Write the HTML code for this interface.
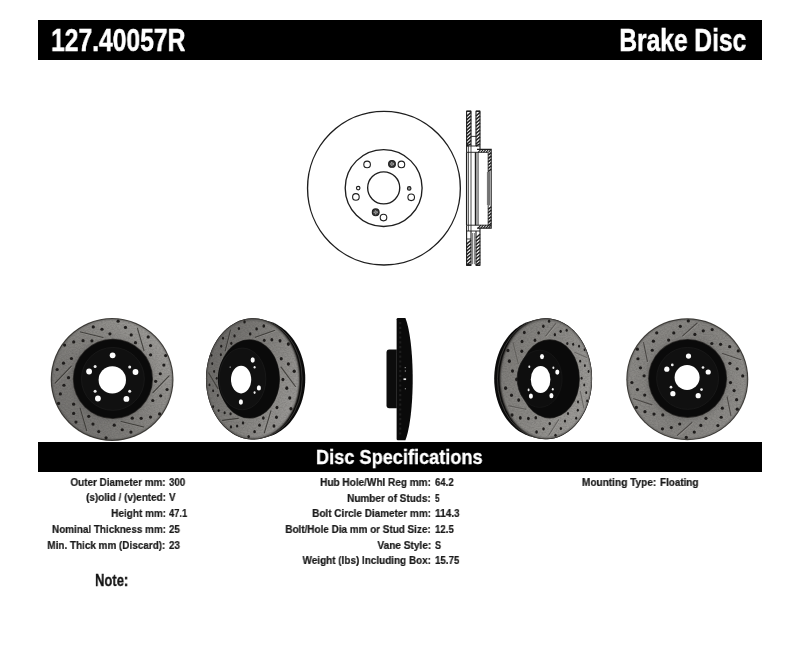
<!DOCTYPE html>
<html lang="en">
<head>
<meta charset="utf-8">
<title>127.40057R Brake Disc</title>
<style>
html,body{margin:0;padding:0;background:#fff;}
body{width:800px;height:655px;position:relative;overflow:hidden;font-family:"Liberation Sans",Arial,sans-serif;font-weight:bold;color:#111;}
.bar{position:absolute;left:38px;width:723.6px;background:#000;}
#bar1{top:20.25px;height:39.35px;}
#bar2{top:442.4px;height:30.1px;}
.t{position:absolute;white-space:nowrap;line-height:1;margin:0;will-change:transform;-webkit-font-smoothing:antialiased;}
#art{position:absolute;left:0;top:0;}
</style>
</head>
<body>
<div class="bar" id="bar1"></div>
<div class="bar" id="bar2"></div>
<div class="t" id="h1a" style="-webkit-text-stroke:0.55px #fff;left:50.95px;top:24.68px;font-size:31px;color:#fff;transform:scaleX(0.7957);transform-origin:0 0;">127.40057R</div>
<div class="t" id="h1b" style="-webkit-text-stroke:0.55px #fff;right:54.00px;top:24.68px;font-size:31px;color:#fff;transform:scaleX(0.7926);transform-origin:100% 0;">Brake Disc</div>
<div class="t" id="h2" style="-webkit-text-stroke:0.35px #fff;left:315.74px;top:447.28px;font-size:20.5px;color:#fff;transform:scaleX(0.8865);transform-origin:0 0;">Disc Specifications</div>
<div class="t" id="l0" style="-webkit-text-stroke:0.22px #1a1a1a;right:634.66px;top:476.98px;font-size:11.3px;color:#1a1a1a;transform:scaleX(0.8762);transform-origin:100% 0;">Outer Diameter mm:</div>
<div class="t" id="lv0" style="-webkit-text-stroke:0.22px #1a1a1a;left:168.78px;top:476.98px;font-size:11.3px;color:#1a1a1a;transform:scaleX(0.8620);transform-origin:0 0;">300</div>
<div class="t" id="l1" style="-webkit-text-stroke:0.22px #1a1a1a;right:633.97px;top:491.97px;font-size:11.3px;color:#1a1a1a;transform:scaleX(0.8780);transform-origin:100% 0;">(s)olid / (v)ented:</div>
<div class="t" id="lv1" style="-webkit-text-stroke:0.22px #1a1a1a;left:168.65px;top:491.97px;font-size:11.3px;color:#1a1a1a;transform:scaleX(0.8750);transform-origin:0 0;">V</div>
<div class="t" id="l2" style="-webkit-text-stroke:0.22px #1a1a1a;right:633.97px;top:507.97px;font-size:11.3px;color:#1a1a1a;transform:scaleX(0.8845);transform-origin:100% 0;">Height mm:</div>
<div class="t" id="lv2" style="-webkit-text-stroke:0.22px #1a1a1a;left:168.78px;top:507.97px;font-size:11.3px;color:#1a1a1a;transform:scaleX(0.8291);transform-origin:0 0;">47.1</div>
<div class="t" id="l3" style="-webkit-text-stroke:0.22px #1a1a1a;right:633.97px;top:524.07px;font-size:11.3px;color:#1a1a1a;transform:scaleX(0.8767);transform-origin:100% 0;">Nominal Thickness mm:</div>
<div class="t" id="lv3" style="-webkit-text-stroke:0.22px #1a1a1a;left:169.02px;top:524.07px;font-size:11.3px;color:#1a1a1a;transform:scaleX(0.8658);transform-origin:0 0;">25</div>
<div class="t" id="l4" style="-webkit-text-stroke:0.22px #1a1a1a;right:634.67px;top:539.71px;font-size:11.3px;color:#1a1a1a;transform:scaleX(0.8783);transform-origin:100% 0;">Min. Thick mm (Discard):</div>
<div class="t" id="lv4" style="-webkit-text-stroke:0.22px #1a1a1a;left:169.02px;top:539.71px;font-size:11.3px;color:#1a1a1a;transform:scaleX(0.8720);transform-origin:0 0;">23</div>
<div class="t" id="m0" style="-webkit-text-stroke:0.22px #1a1a1a;right:369.13px;top:476.96px;font-size:11.3px;color:#1a1a1a;transform:scaleX(0.8866);transform-origin:100% 0;">Hub Hole/Whl Reg mm:</div>
<div class="t" id="mv0" style="-webkit-text-stroke:0.22px #1a1a1a;left:435.13px;top:476.96px;font-size:11.3px;color:#1a1a1a;transform:scaleX(0.8482);transform-origin:0 0;">64.2</div>
<div class="t" id="m1" style="-webkit-text-stroke:0.22px #1a1a1a;right:368.93px;top:492.95px;font-size:11.3px;color:#1a1a1a;transform:scaleX(0.8821);transform-origin:100% 0;">Number of Studs:</div>
<div class="t" id="mv1" style="-webkit-text-stroke:0.22px #1a1a1a;left:435.19px;top:492.95px;font-size:11.3px;color:#1a1a1a;transform:scaleX(0.7311);transform-origin:0 0;">5</div>
<div class="t" id="m2" style="-webkit-text-stroke:0.22px #1a1a1a;right:369.11px;top:508.48px;font-size:11.3px;color:#1a1a1a;transform:scaleX(0.8799);transform-origin:100% 0;">Bolt Circle Diameter mm:</div>
<div class="t" id="mv2" style="-webkit-text-stroke:0.22px #1a1a1a;left:434.95px;top:508.48px;font-size:11.3px;color:#1a1a1a;transform:scaleX(0.8945);transform-origin:0 0;">114.3</div>
<div class="t" id="m3" style="-webkit-text-stroke:0.22px #1a1a1a;right:368.93px;top:523.59px;font-size:11.3px;color:#1a1a1a;transform:scaleX(0.8774);transform-origin:100% 0;">Bolt/Hole Dia mm or Stud Size:</div>
<div class="t" id="mv3" style="-webkit-text-stroke:0.22px #1a1a1a;left:435.03px;top:523.59px;font-size:11.3px;color:#1a1a1a;transform:scaleX(0.8548);transform-origin:0 0;">12.5</div>
<div class="t" id="m4" style="-webkit-text-stroke:0.22px #1a1a1a;right:368.91px;top:539.77px;font-size:11.3px;color:#1a1a1a;transform:scaleX(0.8939);transform-origin:100% 0;">Vane Style:</div>
<div class="t" id="mv4" style="-webkit-text-stroke:0.22px #1a1a1a;left:435.12px;top:539.77px;font-size:11.3px;color:#1a1a1a;transform:scaleX(0.7946);transform-origin:0 0;">S</div>
<div class="t" id="m5" style="-webkit-text-stroke:0.22px #1a1a1a;right:368.51px;top:554.96px;font-size:11.3px;color:#1a1a1a;transform:scaleX(0.8798);transform-origin:100% 0;">Weight (lbs) Including Box:</div>
<div class="t" id="mv5" style="-webkit-text-stroke:0.22px #1a1a1a;left:435.03px;top:554.96px;font-size:11.3px;color:#1a1a1a;transform:scaleX(0.8617);transform-origin:0 0;">15.75</div>
<div class="t" id="r0" style="-webkit-text-stroke:0.22px #1a1a1a;right:143.67px;top:476.61px;font-size:11.3px;color:#1a1a1a;transform:scaleX(0.8927);transform-origin:100% 0;">Mounting Type:</div>
<div class="t" id="rv0" style="-webkit-text-stroke:0.22px #1a1a1a;left:659.66px;top:476.61px;font-size:11.3px;color:#1a1a1a;transform:scaleX(0.8747);transform-origin:0 0;">Floating</div>
<div class="t" id="note" style="-webkit-text-stroke:0.3px #111;left:95.19px;top:572.86px;font-size:16px;color:#111;transform:scaleX(0.8135);transform-origin:0 0;">Note:</div>
<svg id="art" width="800" height="655" viewBox="0 0 800 655">
<g id="drawing" fill="none" stroke="#1e1e1e" stroke-width="0.9">
<ellipse cx="383.95" cy="188.15" rx="76.4" ry="76.85" stroke-width="1.35"/>
<circle cx="383.65" cy="188.05" r="38.45" stroke-width="1.35"/>
<circle cx="383.7" cy="187.85" r="16.05" stroke-width="1.35"/>
<circle cx="367.1" cy="164.4" r="3.3" stroke-width="1.1"/>
<circle cx="401.4" cy="164.4" r="3.3" stroke-width="1.1"/>
<circle cx="355.9" cy="196.9" r="3.3" stroke-width="1.1"/>
<circle cx="411.2" cy="197.3" r="3.3" stroke-width="1.1"/>
<circle cx="383.5" cy="217.6" r="3.3" stroke-width="1.1"/>
<circle cx="358.2" cy="188.1" r="1.75" stroke-width="1.15" fill="none"/>
<circle cx="409.2" cy="188.4" r="1.75" stroke-width="1.15" fill="#9a9a9a"/>
<circle cx="392.0" cy="163.9" r="3.4" fill="#3a3a3a" stroke-width="1.1"/>
<circle cx="392.0" cy="163.9" r="1.6" fill="#777" stroke="#e0e0e0" stroke-width="0.7" stroke-dasharray="0.9 1.1"/>
<circle cx="375.7" cy="212.3" r="3.4" fill="#3a3a3a" stroke-width="1.1"/>
<circle cx="375.7" cy="212.3" r="1.6" fill="#777" stroke="#e0e0e0" stroke-width="0.7" stroke-dasharray="0.9 1.1"/>
<path d="M466.6 152.20000000000002V111.2H471.0V146M476.0 146V111.2H480.0V149.4" stroke-width="1.1"/>
<path d="M466.6 111.2L471.0 111.2" stroke-width="1.4"/>
<path d="M476.0 111.2L480.0 111.2" stroke-width="1.4"/>
<path d="M466.60 116.36L471.00 112.40M466.60 119.86L471.00 115.90M466.60 123.36L471.00 119.40M466.60 126.86L471.00 122.90M466.60 130.36L471.00 126.40M466.60 133.86L471.00 129.90M466.60 137.36L471.00 133.40M466.60 140.86L471.00 136.90M466.60 144.36L471.00 140.40M466.60 146.00L471.00 143.90" stroke-width="1.45"/>
<path d="M476.00 116.00L480.00 112.40M476.00 119.50L480.00 115.90M476.00 123.00L480.00 119.40M476.00 126.50L480.00 122.90M476.00 130.00L480.00 126.40M476.00 133.50L480.00 129.90M476.00 137.00L480.00 133.40M476.00 140.50L480.00 136.90M476.00 144.00L480.00 140.40M476.00 146.00L480.00 143.90" stroke-width="1.45"/>
<path d="M471.0 136.4L476.0 136.4"/>
<path d="M466.6 146L480.0 146"/>
<path d="M466.6 225.29999999999998V265.2H471.0V231M476.0 231V265.2H480.0V228.1" stroke-width="1.1"/>
<path d="M466.6 265.2L471.0 265.2" stroke-width="1.4"/>
<path d="M476.0 265.2L480.0 265.2" stroke-width="1.4"/>
<path d="M466.60 244.16L471.00 240.20M466.60 247.66L471.00 243.70M466.60 251.16L471.00 247.20M466.60 254.66L471.00 250.70M466.60 258.16L471.00 254.20M466.60 261.66L471.00 257.70M466.60 265.16L471.00 261.20M466.60 265.20L471.00 264.70" stroke-width="1.45"/>
<path d="M476.00 237.80L480.00 234.20M476.00 241.30L480.00 237.70M476.00 244.80L480.00 241.20M476.00 248.30L480.00 244.70M476.00 251.80L480.00 248.20M476.00 255.30L480.00 251.70M476.00 258.80L480.00 255.20M476.00 262.30L480.00 258.70M476.00 265.20L480.00 262.20" stroke-width="1.45"/>
<path d="M466.6 239L471.0 239"/>
<path d="M466.6 231L480.0 231"/>
<path d="M472.6 233L472.6 264.2" stroke-width="0.6"/>
<path d="M474.4 233L474.4 264.2" stroke-width="0.6"/>
<path d="M466.6 152.20000000000002L466.6 225.29999999999998" stroke-width="1.3"/>
<path d="M468.5 146L468.5 231" stroke-width="0.7"/>
<path d="M471.0 146L471.0 231" stroke-width="0.8"/>
<path d="M475.4 152.20000000000002L475.4 225.29999999999998" stroke-width="1.2"/>
<path d="M476.9 152.20000000000002L476.9 225.29999999999998" stroke-width="0.7"/>
<path d="M478.2 152.20000000000002L478.2 225.29999999999998" stroke-width="0.7"/>
<path d="M477 149.4H491.2V228.1H477" stroke-width="1.1"/>
<path d="M466.6 152.3H488.2V225.2H466.6" stroke-width="0.9"/>
<path d="M478.20 152.30L480.81 149.40M480.80 152.30L483.41 149.40M483.40 152.30L486.01 149.40M486.00 152.30L488.61 149.40M488.60 152.30L490.90 149.40" stroke-width="1.1"/>
<path d="M478.20 228.10L480.81 225.20M480.80 228.10L483.41 225.20M483.40 228.10L486.01 225.20M486.00 228.10L488.61 225.20M488.60 228.10L490.90 225.20" stroke-width="1.1"/>
<path d="M488.20 155.30L491.20 152.60M488.20 158.60L491.20 155.90M488.20 161.90L491.20 159.20M488.20 165.20L491.20 162.50M488.20 168.50L491.20 165.80M488.20 171.50L491.20 169.10" stroke-width="1.45"/>
<path d="M488.20 209.40L491.20 206.70M488.20 212.70L491.20 210.00M488.20 216.00L491.20 213.30M488.20 219.30L491.20 216.60M488.20 222.60L491.20 219.90M488.20 225.90L491.20 223.20" stroke-width="1.45"/>
<path d="M489.6 171.5L489.6 205.5" stroke-width="0.7"/>
<path d="M487.4 172L487.4 205" stroke-width="0.5"/>
</g><defs><filter id="grain" x="0" y="0" width="100%" height="100%" color-interpolation-filters="sRGB"><feTurbulence type="fractalNoise" baseFrequency="0.55 0.8" numOctaves="2" seed="7" result="n"/><feColorMatrix in="n" type="matrix" values="0 0 0 0 0  0 0 0 0 0  0 0 0 0 0  1.6 0 0 0 -0.55" result="a"/><feComposite in="a" in2="SourceGraphic" operator="in"/></filter><radialGradient id="shade" gradientUnits="userSpaceOnUse" cx="0" cy="0" r="1"><stop offset="0" stop-color="#000" stop-opacity="0.15"/><stop offset="0.66" stop-color="#000" stop-opacity="0.12"/><stop offset="0.72" stop-color="#000" stop-opacity="0.03"/><stop offset="0.9" stop-color="#000" stop-opacity="0.0"/><stop offset="0.96" stop-color="#000" stop-opacity="0.0"/><stop offset="1" stop-color="#000" stop-opacity="0.3"/></radialGradient><radialGradient id="shadeB"><stop offset="0.9" stop-color="#000" stop-opacity="0"/><stop offset="0.96" stop-color="#000" stop-opacity="0"/><stop offset="1" stop-color="#000" stop-opacity="0.3"/></radialGradient><linearGradient id="g1" gradientUnits="userSpaceOnUse" x1="-49.1" y1="36.8" x2="49.1" y2="-36.8"><stop offset="0" stop-color="#5e5c59"/><stop offset="0.5" stop-color="#716f6b"/><stop offset="1" stop-color="#8c8a86"/></linearGradient><linearGradient id="g2" gradientUnits="userSpaceOnUse" x1="206.0" y1="360.7" x2="300.1" y2="397.1"><stop offset="0" stop-color="#53514e"/><stop offset="0.5" stop-color="#6e6c68"/><stop offset="1" stop-color="#8a8885"/></linearGradient><linearGradient id="g4" gradientUnits="userSpaceOnUse" x1="499.5" y1="360.6" x2="592.1" y2="396.9"><stop offset="0" stop-color="#686662"/><stop offset="0.5" stop-color="#787672"/><stop offset="1" stop-color="#8e8c88"/></linearGradient><linearGradient id="g5" gradientUnits="userSpaceOnUse" x1="-61.0" y1="-18.3" x2="61.0" y2="18.3"><stop offset="0" stop-color="#787672"/><stop offset="0.5" stop-color="#716f6b"/><stop offset="1" stop-color="#7e7c78"/></linearGradient></defs>
<g id="disc1" transform="translate(112.1,379.5)">
<circle r="61.4" fill="#45433f"/><circle r="60.4" fill="url(#g1)"/><circle r="1" fill="url(#shade)" transform="scale(60.8)"/><circle r="60.199999999999996" fill="#000" filter="url(#grain)" opacity="0.2"/><circle r="60.199999999999996" fill="#fff" filter="url(#grain2)" opacity="0.14"/><path d="M-31.60 -47.56L-9.01 -42.03M25.39 -51.15L31.89 -28.81M56.99 -3.59L40.90 13.21M31.60 47.56L9.01 42.03M-25.39 51.15L-31.89 28.81M-56.99 3.59L-40.90 -13.21" stroke="#b5b3af" stroke-width="1.2" stroke-linecap="round" fill="none" transform="translate(0.5,0.7)" opacity="0.3"/><path d="M-31.60 -47.56L-9.01 -42.03M25.39 -51.15L31.89 -28.81M56.99 -3.59L40.90 13.21M31.60 47.56L9.01 42.03M-25.39 51.15L-31.89 28.81M-56.99 3.59L-40.90 -13.21" stroke="#34322f" stroke-width="1.15" stroke-linecap="round" fill="none" opacity="0.85"/><circle cx="-47.50" cy="-34.38" r="1.6" fill="#1f1d1c"/><circle cx="-38.39" cy="-37.59" r="1.6" fill="#1f1d1c"/><circle cx="-29.06" cy="-38.84" r="1.6" fill="#1f1d1c"/><circle cx="-20.20" cy="-38.63" r="1.6" fill="#1f1d1c"/><circle cx="-18.83" cy="-52.60" r="1.6" fill="#1f1d1c"/><circle cx="-10.13" cy="-50.26" r="1.6" fill="#1f1d1c"/><circle cx="-2.15" cy="-45.69" r="1.6" fill="#1f1d1c"/><circle cx="6.03" cy="-58.33" r="1.6" fill="#1f1d1c"/><circle cx="13.36" cy="-52.04" r="1.6" fill="#1f1d1c"/><circle cx="19.11" cy="-44.58" r="1.6" fill="#1f1d1c"/><circle cx="23.36" cy="-36.81" r="1.6" fill="#1f1d1c"/><circle cx="36.14" cy="-42.61" r="1.6" fill="#1f1d1c"/><circle cx="38.46" cy="-33.90" r="1.6" fill="#1f1d1c"/><circle cx="38.49" cy="-24.71" r="1.6" fill="#1f1d1c"/><circle cx="53.53" cy="-23.94" r="1.6" fill="#1f1d1c"/><circle cx="51.75" cy="-14.45" r="1.6" fill="#1f1d1c"/><circle cx="48.16" cy="-5.74" r="1.6" fill="#1f1d1c"/><circle cx="43.56" cy="1.83" r="1.6" fill="#1f1d1c"/><circle cx="54.97" cy="9.99" r="1.6" fill="#1f1d1c"/><circle cx="48.59" cy="16.35" r="1.6" fill="#1f1d1c"/><circle cx="40.65" cy="20.98" r="1.6" fill="#1f1d1c"/><circle cx="47.50" cy="34.38" r="1.6" fill="#1f1d1c"/><circle cx="38.39" cy="37.59" r="1.6" fill="#1f1d1c"/><circle cx="29.06" cy="38.84" r="1.6" fill="#1f1d1c"/><circle cx="20.20" cy="38.63" r="1.6" fill="#1f1d1c"/><circle cx="18.83" cy="52.60" r="1.6" fill="#1f1d1c"/><circle cx="10.13" cy="50.26" r="1.6" fill="#1f1d1c"/><circle cx="2.15" cy="45.69" r="1.6" fill="#1f1d1c"/><circle cx="-6.03" cy="58.33" r="1.6" fill="#1f1d1c"/><circle cx="-13.36" cy="52.04" r="1.6" fill="#1f1d1c"/><circle cx="-19.11" cy="44.58" r="1.6" fill="#1f1d1c"/><circle cx="-23.36" cy="36.81" r="1.6" fill="#1f1d1c"/><circle cx="-36.14" cy="42.61" r="1.6" fill="#1f1d1c"/><circle cx="-38.46" cy="33.90" r="1.6" fill="#1f1d1c"/><circle cx="-38.49" cy="24.71" r="1.6" fill="#1f1d1c"/><circle cx="-53.53" cy="23.94" r="1.6" fill="#1f1d1c"/><circle cx="-51.75" cy="14.45" r="1.6" fill="#1f1d1c"/><circle cx="-48.16" cy="5.74" r="1.6" fill="#1f1d1c"/><circle cx="-43.56" cy="-1.83" r="1.6" fill="#1f1d1c"/><circle cx="-54.97" cy="-9.99" r="1.6" fill="#1f1d1c"/><circle cx="-48.59" cy="-16.35" r="1.6" fill="#1f1d1c"/><circle cx="-40.65" cy="-20.98" r="1.6" fill="#1f1d1c"/>
<circle cx="0.80" cy="-0.60" r="40.099999999999994" fill="#2e2c2a"/>
<circle cx="0.80" cy="-0.60" r="39.3" fill="#0a0a0a"/>
<circle cx="0.80" cy="-0.60" r="31.44" fill="#101010" stroke="#1a1a1a" stroke-width="0.8"/>
<ellipse cx="0.20" cy="0.40" rx="13.7" ry="13.7" fill="#fff"/><ellipse cx="0.50" cy="-24.20" rx="2.90" ry="2.9" fill="#fcfcfc"/><ellipse cx="-23.00" cy="-8.00" rx="2.90" ry="2.9" fill="#fcfcfc"/><ellipse cx="23.40" cy="-7.50" rx="2.90" ry="2.9" fill="#fcfcfc"/><ellipse cx="-14.20" cy="19.00" rx="2.90" ry="2.9" fill="#fcfcfc"/><ellipse cx="14.30" cy="19.40" rx="2.90" ry="2.9" fill="#fcfcfc"/><ellipse cx="-17.00" cy="-12.90" rx="1.50" ry="1.5" fill="#ececec"/><ellipse cx="17.60" cy="-12.50" rx="1.50" ry="1.5" fill="#ececec"/><ellipse cx="-17.00" cy="11.70" rx="1.50" ry="1.5" fill="#ececec"/><ellipse cx="17.60" cy="11.70" rx="1.50" ry="1.5" fill="#ececec"/>
</g>
<g id="disc2">
<path d="M305.19 375.36L305.27 378.90L305.19 382.44L304.94 385.96L304.52 389.46L303.94 392.91L303.20 396.31L302.30 399.64L301.25 402.88L300.06 406.04L298.72 409.09L297.25 412.02L295.65 414.83L293.94 417.50L292.11 420.03L290.18 422.41L288.15 424.63L286.04 426.69L283.85 428.59L281.59 430.31L279.28 431.86L276.91 433.24L274.51 434.44L272.07 435.46L269.61 436.31L263.98 437.86L261.47 438.54L258.96 439.04L256.45 439.36L253.95 439.51L251.46 439.48L249.00 439.29L246.57 438.94L244.17 438.43L241.81 437.76L239.49 436.95L237.23 435.99L235.02 434.90L232.88 433.67L230.79 432.32L228.78 430.84L226.83 429.25L224.96 427.55L223.17 425.74L221.45 423.84L219.82 421.84L218.27 419.75L216.81 417.59L215.43 415.35L214.14 413.03L212.95 410.65L211.84 408.22L210.83 405.72L209.91 403.18L209.09 400.59L208.36 397.97L207.73 395.31L207.19 392.62L206.75 389.90L206.41 387.17L206.17 384.42L206.02 381.66L205.97 378.90L206.02 376.14L206.17 373.38L206.41 370.63L206.75 367.90L207.19 365.19L207.73 362.50L208.36 359.83L209.09 357.21L209.91 354.62L210.83 352.08L211.84 349.59L212.95 347.15L214.14 344.77L215.43 342.46L216.81 340.21L218.27 338.05L219.82 335.96L221.45 333.96L223.17 332.06L224.96 330.25L226.83 328.55L228.78 326.96L230.79 325.48L232.88 324.13L235.02 322.90L237.23 321.81L239.49 320.85L241.81 320.04L244.17 319.37L246.57 318.86L249.00 318.51L251.46 318.32L253.95 318.29L256.45 318.44L258.96 318.76L261.47 319.26L263.98 319.94L269.61 321.49L272.07 322.34L274.51 323.36L276.91 324.56L279.28 325.94L281.59 327.49L283.85 329.21L286.04 331.11L288.15 333.17L290.18 335.39L292.11 337.77L293.94 340.30L295.65 342.98L297.25 345.78L298.72 348.72L300.06 351.76L301.25 354.92L302.30 358.16L303.20 361.49L303.94 364.89L304.52 368.34L304.94 371.84Z" fill="#0b0b0b"/>
<ellipse cx="255.54" cy="378.90" rx="46.64" ry="59.60" fill="none" stroke="#403f3c" stroke-width="0.8"/>
<ellipse cx="253.05" cy="378.90" rx="47.08" ry="60.62" fill="#403e3b"/>
<ellipse cx="252.83" cy="378.90" rx="46.26" ry="59.59" fill="url(#g2)"/>
<ellipse cx="252.83" cy="378.90" rx="46.26" ry="59.59" fill="url(#shadeB)"/>
<ellipse cx="252.83" cy="378.90" rx="46.26" ry="59.59" fill="#000" filter="url(#grain)" opacity="0.2"/>
<ellipse cx="252.83" cy="378.90" rx="46.26" ry="59.59" fill="#fff" filter="url(#grain2)" opacity="0.14"/>
<path d="M222.65 420.41L238.23 418.42M264.36 432.96L270.94 410.96M295.42 386.51L281.06 367.17M274.46 330.49L255.34 337.31M230.48 330.03L225.28 350.91M208.73 373.01L217.96 388.63" stroke="#b5b3af" stroke-width="1.2" stroke-linecap="round" fill="none" transform="translate(0.4,0.6)" opacity="0.3"/>
<path d="M222.65 420.41L238.23 418.42M264.36 432.96L270.94 410.96M295.42 386.51L281.06 367.17M274.46 330.49L255.34 337.31M230.48 330.03L225.28 350.91M208.73 373.01L217.96 388.63" stroke="#34322f" stroke-width="1.15" stroke-linecap="round" fill="none" opacity="0.85"/>
<ellipse cx="213.14" cy="406.76" rx="1.00" ry="1.44" fill="#1f1d1c"/>
<ellipse cx="218.68" cy="410.61" rx="1.03" ry="1.47" fill="#1f1d1c"/>
<ellipse cx="224.64" cy="412.84" rx="1.08" ry="1.50" fill="#1f1d1c"/>
<ellipse cx="230.57" cy="413.76" rx="1.12" ry="1.53" fill="#1f1d1c"/>
<ellipse cx="230.96" cy="426.88" rx="1.12" ry="1.53" fill="#1f1d1c"/>
<ellipse cx="237.10" cy="426.04" rx="1.16" ry="1.56" fill="#1f1d1c"/>
<ellipse cx="243.05" cy="422.92" rx="1.21" ry="1.59" fill="#1f1d1c"/>
<ellipse cx="248.64" cy="436.53" rx="1.25" ry="1.62" fill="#1f1d1c"/>
<ellipse cx="254.58" cy="431.67" rx="1.29" ry="1.65" fill="#1f1d1c"/>
<ellipse cx="259.51" cy="425.20" rx="1.33" ry="1.67" fill="#1f1d1c"/>
<ellipse cx="263.35" cy="417.99" rx="1.36" ry="1.69" fill="#1f1d1c"/>
<ellipse cx="273.97" cy="426.06" rx="1.44" ry="1.74" fill="#1f1d1c"/>
<ellipse cx="276.46" cy="417.26" rx="1.46" ry="1.75" fill="#1f1d1c"/>
<ellipse cx="276.95" cy="407.53" rx="1.46" ry="1.75" fill="#1f1d1c"/>
<ellipse cx="290.94" cy="408.71" rx="1.58" ry="1.82" fill="#1f1d1c"/>
<ellipse cx="289.74" cy="398.04" rx="1.57" ry="1.81" fill="#1f1d1c"/>
<ellipse cx="286.81" cy="388.16" rx="1.54" ry="1.79" fill="#1f1d1c"/>
<ellipse cx="282.91" cy="379.59" rx="1.51" ry="1.77" fill="#1f1d1c"/>
<ellipse cx="294.20" cy="371.23" rx="1.61" ry="1.83" fill="#1f1d1c"/>
<ellipse cx="288.39" cy="363.96" rx="1.56" ry="1.80" fill="#1f1d1c"/>
<ellipse cx="281.24" cy="358.78" rx="1.50" ry="1.77" fill="#1f1d1c"/>
<ellipse cx="288.32" cy="344.10" rx="1.56" ry="1.80" fill="#1f1d1c"/>
<ellipse cx="280.03" cy="340.87" rx="1.49" ry="1.77" fill="#1f1d1c"/>
<ellipse cx="271.81" cy="339.85" rx="1.42" ry="1.73" fill="#1f1d1c"/>
<ellipse cx="264.27" cy="340.37" rx="1.36" ry="1.69" fill="#1f1d1c"/>
<ellipse cx="263.79" cy="326.00" rx="1.36" ry="1.69" fill="#1f1d1c"/>
<ellipse cx="256.61" cy="328.94" rx="1.31" ry="1.66" fill="#1f1d1c"/>
<ellipse cx="250.17" cy="333.93" rx="1.26" ry="1.63" fill="#1f1d1c"/>
<ellipse cx="244.53" cy="321.97" rx="1.22" ry="1.60" fill="#1f1d1c"/>
<ellipse cx="238.92" cy="328.53" rx="1.18" ry="1.57" fill="#1f1d1c"/>
<ellipse cx="234.56" cy="335.92" rx="1.14" ry="1.55" fill="#1f1d1c"/>
<ellipse cx="231.32" cy="343.37" rx="1.12" ry="1.53" fill="#1f1d1c"/>
<ellipse cx="223.02" cy="338.36" rx="1.06" ry="1.49" fill="#1f1d1c"/>
<ellipse cx="221.20" cy="346.34" rx="1.05" ry="1.48" fill="#1f1d1c"/>
<ellipse cx="220.85" cy="354.66" rx="1.05" ry="1.48" fill="#1f1d1c"/>
<ellipse cx="211.49" cy="355.33" rx="0.99" ry="1.43" fill="#1f1d1c"/>
<ellipse cx="212.24" cy="363.68" rx="0.99" ry="1.44" fill="#1f1d1c"/>
<ellipse cx="214.12" cy="371.44" rx="1.00" ry="1.45" fill="#1f1d1c"/>
<ellipse cx="216.70" cy="378.34" rx="1.02" ry="1.46" fill="#1f1d1c"/>
<ellipse cx="209.47" cy="384.88" rx="0.97" ry="1.42" fill="#1f1d1c"/>
<ellipse cx="213.10" cy="390.86" rx="1.00" ry="1.44" fill="#1f1d1c"/>
<ellipse cx="217.84" cy="395.58" rx="1.03" ry="1.46" fill="#1f1d1c"/>
<ellipse cx="249.25" cy="378.90" rx="30.72" ry="39.70" fill="#2a2927"/>
<path d="M248.14 339.93L249.72 339.90L251.31 339.99L252.90 340.19L254.48 340.49L256.06 340.91L257.63 341.44L259.18 342.08L260.70 342.83L262.20 343.69L263.67 344.66L265.10 345.74L266.49 346.92L267.83 348.20L269.12 349.59L270.35 351.07L271.52 352.64L272.62 354.29L273.65 356.04L274.61 357.85L275.49 359.74L276.28 361.70L276.99 363.72L277.62 365.79L278.15 367.90L278.58 370.05L278.93 372.24L279.17 374.45L279.32 376.67L279.37 378.90L279.32 381.13L279.17 383.36L278.93 385.56L278.58 387.75L278.15 389.90L277.62 392.02L276.99 394.08L276.28 396.10L275.49 398.06L274.61 399.95L273.65 401.77L272.62 403.51L271.52 405.17L270.35 406.74L269.12 408.21L267.83 409.60L266.49 410.88L265.10 412.06L263.67 413.14L262.20 414.11L260.70 414.97L259.18 415.72L257.63 416.36L256.06 416.89L254.48 417.31L252.90 417.61L251.31 417.81L249.72 417.90L248.14 417.87L246.57 417.75L245.01 417.51L243.47 417.18L241.96 416.74L240.47 416.21L239.01 415.58L237.58 414.86L236.19 414.04L234.84 413.15L233.53 412.17L232.26 411.11L231.05 409.97L229.88 408.76L228.76 407.49L227.70 406.14L226.69 404.74L225.74 403.28L223.43 399.58L222.68 398.30L221.98 396.98L221.33 395.62L220.73 394.22L220.19 392.78L219.70 391.32L219.27 389.83L218.89 388.31L218.57 386.77L218.31 385.22L218.11 383.65L217.96 382.07L217.88 380.49L217.85 378.90L217.88 377.31L217.96 375.73L218.11 374.15L218.31 372.58L218.57 371.03L218.89 369.49L219.27 367.98L219.70 366.48L220.19 365.02L220.73 363.58L221.33 362.19L221.98 360.82L222.68 359.50L223.43 358.23L225.74 354.52L226.69 353.06L227.70 351.66L228.76 350.31L229.88 349.04L231.05 347.83L232.26 346.69L233.53 345.63L234.84 344.65L236.19 343.76L237.58 342.95L239.01 342.22L240.47 341.59L241.96 341.06L243.47 340.62L245.01 340.29L246.57 340.05Z" fill="#0a0a0a"/>
<ellipse cx="242.44" cy="378.90" rx="23.38" ry="30.85" fill="#101010" stroke="#1c1c1c" stroke-width="0.7"/>
<ellipse cx="241.10" cy="379.60" rx="10.1" ry="13.8" fill="#fff"/><ellipse cx="252.70" cy="360.00" rx="2.06" ry="2.65" fill="#fcfcfc"/><ellipse cx="258.90" cy="387.90" rx="2.06" ry="2.65" fill="#fcfcfc"/><ellipse cx="240.90" cy="402.00" rx="2.06" ry="2.65" fill="#fcfcfc"/><ellipse cx="254.60" cy="367.20" rx="1.01" ry="1.3" fill="#ececec"/><ellipse cx="254.60" cy="392.60" rx="1.01" ry="1.3" fill="#ececec"/>
<ellipse cx="230.2" cy="367.2" rx="0.7" ry="0.9" fill="#8a8a8a"/>
</g>
<g id="disc4">
<path d="M494.20 378.78L494.29 375.24L494.53 371.71L494.95 368.21L495.52 364.76L496.26 361.35L497.14 358.02L498.18 354.77L499.37 351.62L500.69 348.57L502.15 345.64L503.73 342.83L505.43 340.16L507.23 337.64L509.14 335.26L511.15 333.04L513.23 330.99L515.39 329.10L517.62 327.38L519.91 325.84L522.24 324.48L524.62 323.29L527.02 322.27L529.45 321.44L531.89 320.78L537.68 319.24L540.15 318.75L542.62 318.44L545.08 318.31L547.53 318.34L549.95 318.54L552.34 318.91L554.69 319.43L557.01 320.10L559.28 320.92L561.50 321.88L563.66 322.98L565.76 324.21L567.81 325.57L569.78 327.05L571.69 328.64L573.52 330.34L575.27 332.15L576.95 334.05L578.55 336.04L580.06 338.12L581.50 340.28L582.84 342.52L584.10 344.82L585.27 347.19L586.35 349.62L587.34 352.10L588.23 354.63L589.04 357.21L589.75 359.82L590.37 362.47L590.89 365.14L591.32 367.84L591.65 370.56L591.89 373.29L592.03 376.04L592.08 378.78L592.03 381.53L591.89 384.27L591.65 387.01L591.32 389.72L590.89 392.42L590.37 395.10L589.75 397.75L589.04 400.36L588.23 402.93L587.34 405.47L586.35 407.95L585.27 410.38L584.10 412.75L582.84 415.05L581.50 417.29L580.06 419.45L578.55 421.53L576.95 423.52L575.27 425.42L573.52 427.23L571.69 428.93L569.78 430.52L567.81 432.00L565.76 433.35L563.66 434.59L561.50 435.69L559.28 436.65L557.01 437.47L554.69 438.14L552.34 438.66L549.95 439.02L547.53 439.23L545.08 439.26L542.62 439.12L540.15 438.81L537.68 438.33L531.89 436.79L529.45 436.13L527.02 435.29L524.62 434.28L522.24 433.09L519.91 431.73L517.62 430.18L515.39 428.47L513.23 426.58L511.15 424.53L509.14 422.31L507.23 419.93L505.43 417.41L503.73 414.74L502.15 411.93L500.69 409.00L499.37 405.95L498.18 402.79L497.14 399.55L496.26 396.21L495.52 392.81L494.95 389.36L494.53 385.86L494.29 382.33Z" fill="#0b0b0b"/>
<ellipse cx="543.27" cy="378.78" rx="45.87" ry="59.48" fill="none" stroke="#403f3c" stroke-width="0.8"/>
<ellipse cx="545.81" cy="378.78" rx="46.27" ry="60.48" fill="#403e3b"/>
<ellipse cx="546.03" cy="378.78" rx="45.47" ry="59.45" fill="url(#g4)"/>
<ellipse cx="546.03" cy="378.78" rx="45.47" ry="59.45" fill="url(#shadeB)"/>
<ellipse cx="546.03" cy="378.78" rx="45.47" ry="59.45" fill="#000" filter="url(#grain)" opacity="0.2"/>
<ellipse cx="546.03" cy="378.78" rx="45.47" ry="59.45" fill="#fff" filter="url(#grain2)" opacity="0.14"/>
<path d="M548.79 435.19L558.54 419.96M583.77 407.58L580.37 391.34M586.60 357.44L575.00 352.54M555.81 323.59L545.88 335.95M513.26 343.00L518.39 363.57M508.79 405.90L525.96 409.33" stroke="#b5b3af" stroke-width="1.2" stroke-linecap="round" fill="none" transform="translate(0.4,0.6)" opacity="0.45"/>
<path d="M548.79 435.19L558.54 419.96M583.77 407.58L580.37 391.34M586.60 357.44L575.00 352.54M555.81 323.59L545.88 335.95M513.26 343.00L518.39 363.57M508.79 405.90L525.96 409.33" stroke="#34322f" stroke-width="1.15" stroke-linecap="round" fill="none" opacity="0.5"/>
<ellipse cx="512.05" cy="415.00" rx="1.53" ry="1.81" fill="#1f1d1c"/>
<ellipse cx="520.29" cy="417.89" rx="1.47" ry="1.77" fill="#1f1d1c"/>
<ellipse cx="528.40" cy="418.59" rx="1.40" ry="1.73" fill="#1f1d1c"/>
<ellipse cx="535.79" cy="417.79" rx="1.34" ry="1.69" fill="#1f1d1c"/>
<ellipse cx="536.57" cy="432.02" rx="1.33" ry="1.69" fill="#1f1d1c"/>
<ellipse cx="543.55" cy="428.82" rx="1.28" ry="1.66" fill="#1f1d1c"/>
<ellipse cx="549.75" cy="423.62" rx="1.23" ry="1.62" fill="#1f1d1c"/>
<ellipse cx="555.51" cy="435.25" rx="1.19" ry="1.60" fill="#1f1d1c"/>
<ellipse cx="560.86" cy="428.53" rx="1.15" ry="1.57" fill="#1f1d1c"/>
<ellipse cx="564.98" cy="421.05" rx="1.12" ry="1.54" fill="#1f1d1c"/>
<ellipse cx="567.99" cy="413.54" rx="1.10" ry="1.53" fill="#1f1d1c"/>
<ellipse cx="576.20" cy="418.18" rx="1.04" ry="1.49" fill="#1f1d1c"/>
<ellipse cx="577.81" cy="410.21" rx="1.03" ry="1.48" fill="#1f1d1c"/>
<ellipse cx="578.00" cy="401.94" rx="1.03" ry="1.47" fill="#1f1d1c"/>
<ellipse cx="587.12" cy="400.94" rx="0.96" ry="1.43" fill="#1f1d1c"/>
<ellipse cx="586.23" cy="392.68" rx="0.97" ry="1.43" fill="#1f1d1c"/>
<ellipse cx="584.25" cy="385.04" rx="0.98" ry="1.44" fill="#1f1d1c"/>
<ellipse cx="581.60" cy="378.28" rx="1.00" ry="1.45" fill="#1f1d1c"/>
<ellipse cx="588.54" cy="371.51" rx="0.95" ry="1.42" fill="#1f1d1c"/>
<ellipse cx="584.89" cy="365.68" rx="0.98" ry="1.44" fill="#1f1d1c"/>
<ellipse cx="580.15" cy="361.14" rx="1.01" ry="1.46" fill="#1f1d1c"/>
<ellipse cx="584.55" cy="349.82" rx="0.98" ry="1.44" fill="#1f1d1c"/>
<ellipse cx="579.05" cy="346.17" rx="1.02" ry="1.47" fill="#1f1d1c"/>
<ellipse cx="573.17" cy="344.14" rx="1.06" ry="1.50" fill="#1f1d1c"/>
<ellipse cx="567.33" cy="343.42" rx="1.10" ry="1.53" fill="#1f1d1c"/>
<ellipse cx="566.68" cy="330.30" rx="1.11" ry="1.54" fill="#1f1d1c"/>
<ellipse cx="560.66" cy="331.34" rx="1.15" ry="1.57" fill="#1f1d1c"/>
<ellipse cx="554.87" cy="334.65" rx="1.19" ry="1.60" fill="#1f1d1c"/>
<ellipse cx="549.09" cy="321.18" rx="1.24" ry="1.63" fill="#1f1d1c"/>
<ellipse cx="543.33" cy="326.25" rx="1.28" ry="1.66" fill="#1f1d1c"/>
<ellipse cx="538.61" cy="332.91" rx="1.32" ry="1.68" fill="#1f1d1c"/>
<ellipse cx="534.98" cy="340.28" rx="1.35" ry="1.69" fill="#1f1d1c"/>
<ellipse cx="524.31" cy="332.52" rx="1.43" ry="1.75" fill="#1f1d1c"/>
<ellipse cx="522.05" cy="341.44" rx="1.45" ry="1.76" fill="#1f1d1c"/>
<ellipse cx="521.79" cy="351.22" rx="1.45" ry="1.76" fill="#1f1d1c"/>
<ellipse cx="507.94" cy="350.51" rx="1.57" ry="1.82" fill="#1f1d1c"/>
<ellipse cx="509.37" cy="361.17" rx="1.56" ry="1.82" fill="#1f1d1c"/>
<ellipse cx="512.50" cy="370.97" rx="1.53" ry="1.80" fill="#1f1d1c"/>
<ellipse cx="516.55" cy="379.40" rx="1.50" ry="1.78" fill="#1f1d1c"/>
<ellipse cx="505.60" cy="388.17" rx="1.59" ry="1.83" fill="#1f1d1c"/>
<ellipse cx="511.51" cy="395.21" rx="1.54" ry="1.80" fill="#1f1d1c"/>
<ellipse cx="518.69" cy="400.12" rx="1.48" ry="1.77" fill="#1f1d1c"/>
<ellipse cx="549.64" cy="378.78" rx="30.19" ry="39.60" fill="#2a2927"/>
<ellipse cx="549.64" cy="378.78" rx="29.59" ry="38.90" fill="#0a0a0a"/>
<ellipse cx="539.64" cy="378.78" rx="22.47" ry="28.60" fill="#0e0e0e" stroke="#191919" stroke-width="0.7"/>
<ellipse cx="540.60" cy="379.40" rx="9.8" ry="13.5" fill="#fff"/><ellipse cx="542.00" cy="356.60" rx="2.03" ry="2.65" fill="#fcfcfc"/><ellipse cx="557.30" cy="372.10" rx="2.03" ry="2.65" fill="#fcfcfc"/><ellipse cx="551.40" cy="395.70" rx="2.03" ry="2.65" fill="#fcfcfc"/><ellipse cx="530.90" cy="396.10" rx="2.03" ry="2.65" fill="#fcfcfc"/><ellipse cx="529.30" cy="366.80" rx="0.99" ry="1.3" fill="#ececec"/><ellipse cx="553.40" cy="367.80" rx="0.99" ry="1.3" fill="#ececec"/><ellipse cx="552.80" cy="389.30" rx="0.99" ry="1.3" fill="#ececec"/><ellipse cx="528.60" cy="389.90" rx="0.99" ry="1.3" fill="#ececec"/>
</g>
<g id="disc5" transform="translate(687.3,379.2)">
<circle r="61.0" fill="#45433f"/><circle r="60.0" fill="url(#g5)"/><circle r="1" fill="url(#shade)" transform="scale(60.4)"/><circle r="59.8" fill="#000" filter="url(#grain)" opacity="0.2"/><circle r="59.8" fill="#fff" filter="url(#grain2)" opacity="0.14"/><path d="M-9.90 56.17L4.56 43.38M43.69 36.66L39.84 17.74M53.60 -19.51L35.29 -25.64M9.90 -56.17L-4.56 -43.38M-43.69 -36.66L-39.84 -17.74M-53.60 19.51L-35.29 25.64" stroke="#b5b3af" stroke-width="1.2" stroke-linecap="round" fill="none" transform="translate(0.5,0.7)" opacity="0.35"/><path d="M-9.90 56.17L4.56 43.38M43.69 36.66L39.84 17.74M53.60 -19.51L35.29 -25.64M9.90 -56.17L-4.56 -43.38M-43.69 -36.66L-39.84 -17.74M-53.60 19.51L-35.29 25.64" stroke="#34322f" stroke-width="1.15" stroke-linecap="round" fill="none" opacity="0.75"/><circle cx="-50.95" cy="28.24" r="1.6" fill="#1f1d1c"/><circle cx="-42.35" cy="32.49" r="1.6" fill="#1f1d1c"/><circle cx="-33.29" cy="34.84" r="1.6" fill="#1f1d1c"/><circle cx="-24.53" cy="35.69" r="1.6" fill="#1f1d1c"/><circle cx="-24.86" cy="49.63" r="1.6" fill="#1f1d1c"/><circle cx="-15.99" cy="48.36" r="1.6" fill="#1f1d1c"/><circle cx="-7.58" cy="44.81" r="1.6" fill="#1f1d1c"/><circle cx="-1.02" cy="58.25" r="1.6" fill="#1f1d1c"/><circle cx="6.97" cy="52.92" r="1.6" fill="#1f1d1c"/><circle cx="13.53" cy="46.25" r="1.6" fill="#1f1d1c"/><circle cx="18.65" cy="39.09" r="1.6" fill="#1f1d1c"/><circle cx="30.56" cy="46.34" r="1.6" fill="#1f1d1c"/><circle cx="33.88" cy="38.03" r="1.6" fill="#1f1d1c"/><circle cx="35.02" cy="28.97" r="1.6" fill="#1f1d1c"/><circle cx="49.93" cy="30.00" r="1.6" fill="#1f1d1c"/><circle cx="49.31" cy="20.43" r="1.6" fill="#1f1d1c"/><circle cx="46.82" cy="11.41" r="1.6" fill="#1f1d1c"/><circle cx="43.18" cy="3.40" r="1.6" fill="#1f1d1c"/><circle cx="55.41" cy="-3.29" r="1.6" fill="#1f1d1c"/><circle cx="49.88" cy="-10.33" r="1.6" fill="#1f1d1c"/><circle cx="42.59" cy="-15.84" r="1.6" fill="#1f1d1c"/><circle cx="50.95" cy="-28.24" r="1.6" fill="#1f1d1c"/><circle cx="42.35" cy="-32.49" r="1.6" fill="#1f1d1c"/><circle cx="33.29" cy="-34.84" r="1.6" fill="#1f1d1c"/><circle cx="24.53" cy="-35.69" r="1.6" fill="#1f1d1c"/><circle cx="24.86" cy="-49.63" r="1.6" fill="#1f1d1c"/><circle cx="15.99" cy="-48.36" r="1.6" fill="#1f1d1c"/><circle cx="7.58" cy="-44.81" r="1.6" fill="#1f1d1c"/><circle cx="1.02" cy="-58.25" r="1.6" fill="#1f1d1c"/><circle cx="-6.97" cy="-52.92" r="1.6" fill="#1f1d1c"/><circle cx="-13.53" cy="-46.25" r="1.6" fill="#1f1d1c"/><circle cx="-18.65" cy="-39.09" r="1.6" fill="#1f1d1c"/><circle cx="-30.56" cy="-46.34" r="1.6" fill="#1f1d1c"/><circle cx="-33.88" cy="-38.03" r="1.6" fill="#1f1d1c"/><circle cx="-35.02" cy="-28.97" r="1.6" fill="#1f1d1c"/><circle cx="-49.93" cy="-30.00" r="1.6" fill="#1f1d1c"/><circle cx="-49.31" cy="-20.43" r="1.6" fill="#1f1d1c"/><circle cx="-46.82" cy="-11.41" r="1.6" fill="#1f1d1c"/><circle cx="-43.18" cy="-3.40" r="1.6" fill="#1f1d1c"/><circle cx="-55.41" cy="3.29" r="1.6" fill="#1f1d1c"/><circle cx="-49.88" cy="10.33" r="1.6" fill="#1f1d1c"/><circle cx="-42.59" cy="15.84" r="1.6" fill="#1f1d1c"/>
<circle cx="0.30" cy="-0.80" r="39.5" fill="#2e2c2a"/>
<circle cx="0.30" cy="-0.80" r="38.7" fill="#0a0a0a"/>
<circle cx="0.30" cy="-0.80" r="30.96" fill="#101010" stroke="#1a1a1a" stroke-width="0.8"/>
<ellipse cx="-0.20" cy="-1.70" rx="12.5" ry="12.5" fill="#fff"/><ellipse cx="1.20" cy="-23.10" rx="2.60" ry="2.6" fill="#fcfcfc"/><ellipse cx="-20.50" cy="-10.00" rx="2.60" ry="2.6" fill="#fcfcfc"/><ellipse cx="20.90" cy="-7.20" rx="2.60" ry="2.6" fill="#fcfcfc"/><ellipse cx="-14.40" cy="14.50" rx="2.60" ry="2.6" fill="#fcfcfc"/><ellipse cx="10.90" cy="16.50" rx="2.60" ry="2.6" fill="#fcfcfc"/><ellipse cx="-15.00" cy="-14.30" rx="1.35" ry="1.35" fill="#ececec"/><ellipse cx="15.70" cy="-11.70" rx="1.35" ry="1.35" fill="#ececec"/><ellipse cx="-16.30" cy="8.00" rx="1.35" ry="1.35" fill="#ececec"/><ellipse cx="14.20" cy="10.40" rx="1.35" ry="1.35" fill="#ececec"/>
</g>
<g id="disc3">
<path d="M396.6 319.2Q396.6 318 398 318H405.4C410.2 330 412.7 355 412.7 379C412.7 403 410.2 428 405.4 440.2H398Q396.6 440.2 396.6 439Z" fill="#0a0a0a"/>
<path d="M396.8 349.5H389.2Q386.5 349.5 386.5 352.5V405.3Q386.5 408.3 389.2 408.3H396.8Z" fill="#0c0c0c"/>
<path d="M400.2 322V436" stroke="#1d1d1d" stroke-width="2.2" stroke-dasharray="2.2 2.6" fill="none"/>
<rect x="404.75" y="367.25" width="0.9" height="0.9" fill="#e8e8e8"/>
<rect x="404.85" y="370.55" width="0.9" height="0.9" fill="#e8e8e8"/>
<rect x="403.50" y="378.35" width="2.6" height="1.7" fill="#e8e8e8"/>
<rect x="404.85" y="388.35" width="0.9" height="0.9" fill="#e8e8e8"/>
</g>
</svg>
</body>
</html>
